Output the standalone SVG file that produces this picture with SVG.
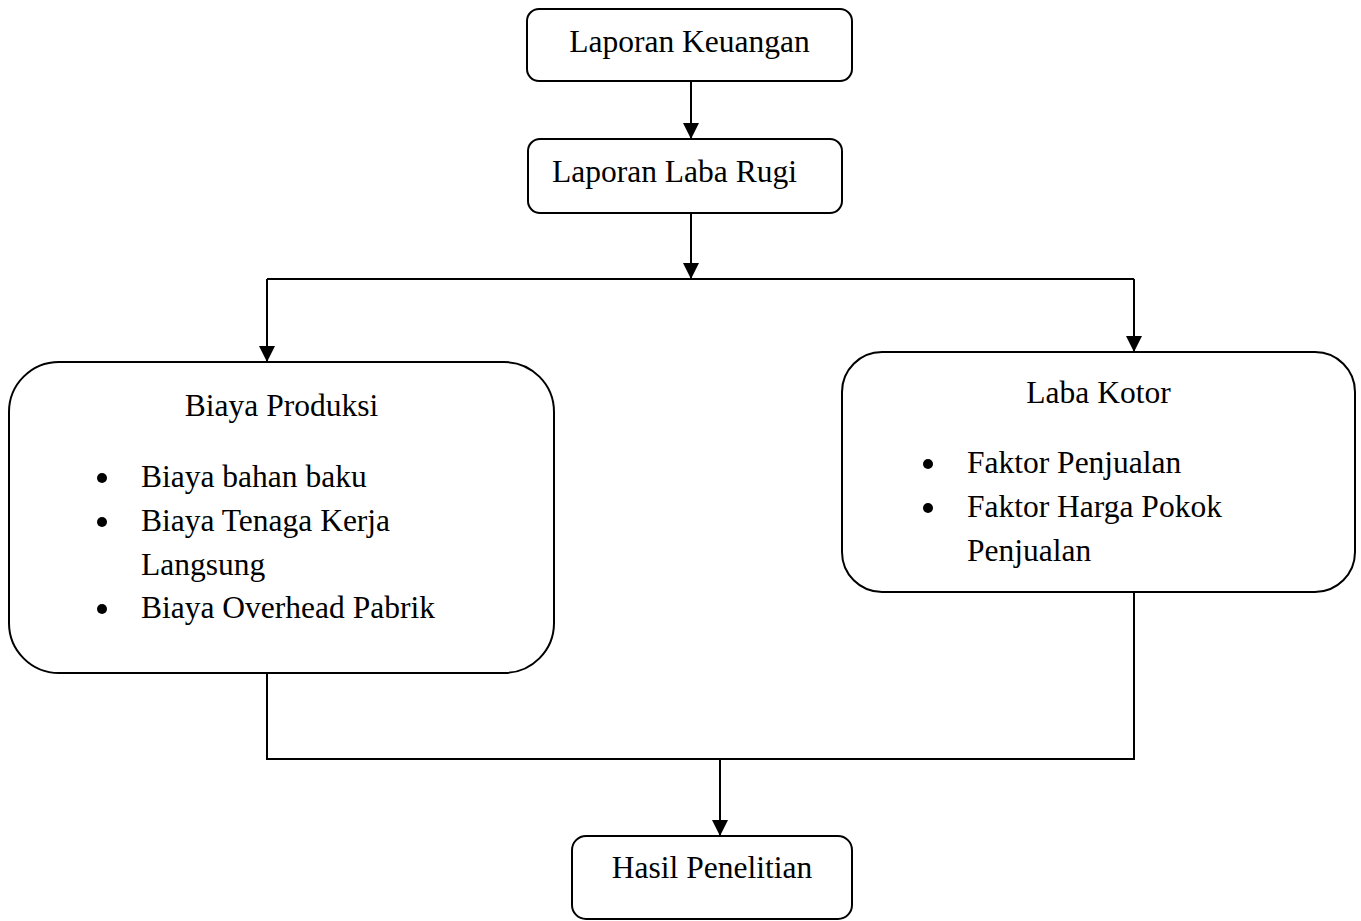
<svg xmlns="http://www.w3.org/2000/svg" width="1361" height="921" viewBox="0 0 1361 921">
<style>
.box{fill:#fff;stroke:#000;stroke-width:2}
.t{font-family:"Liberation Serif","Times New Roman",serif;font-size:31.5px;fill:#000}
.c{text-anchor:middle}
.ln{fill:none;stroke:#000;stroke-width:2}
.dot{fill:#000}
</style>
<defs>
<marker id="ah" markerUnits="userSpaceOnUse" markerWidth="16" markerHeight="16" refX="16" refY="8" orient="auto">
<path d="M0,0 L16,8 L0,16 z" fill="#000"/>
</marker>
</defs>
<rect width="1361" height="921" fill="#fff"/>
<g id="connectors">
<line class="ln" x1="691" y1="81" x2="691" y2="139" marker-end="url(#ah)"/>
<line class="ln" x1="691" y1="213" x2="691" y2="279" marker-end="url(#ah)"/>
<line class="ln" x1="267" y1="279" x2="1134" y2="279"/>
<line class="ln" x1="267" y1="279" x2="267" y2="362" marker-end="url(#ah)"/>
<line class="ln" x1="1134" y1="279" x2="1134" y2="352" marker-end="url(#ah)"/>
<polyline class="ln" points="267,673 267,759 1134,759 1134,592"/>
<line class="ln" x1="720" y1="759" x2="720" y2="836" marker-end="url(#ah)"/>
</g>
<g id="laporan-keuangan">
<rect class="box" x="527" y="9" width="325" height="72" rx="12"/>
<text class="t c" x="689.5" y="52">Laporan Keuangan</text>
</g>
<g id="laporan-laba-rugi">
<rect class="box" x="528" y="139" width="314" height="74" rx="12"/>
<text class="t" x="552" y="182">Laporan Laba Rugi</text>
</g>
<g id="biaya-produksi">
<rect class="box" x="9" y="362" width="545" height="311" rx="50"/>
<text class="t c" x="281.5" y="416">Biaya Produksi</text>
<circle class="dot" cx="102" cy="478" r="5"/>
<text class="t" x="141" y="487">Biaya bahan baku</text>
<circle class="dot" cx="102" cy="522" r="5"/>
<text class="t" x="141" y="531">Biaya Tenaga Kerja</text>
<text class="t" x="141" y="575">Langsung</text>
<circle class="dot" cx="102" cy="609" r="5"/>
<text class="t" x="141" y="618">Biaya Overhead Pabrik</text>
</g>
<g id="laba-kotor">
<rect class="box" x="842" y="352" width="513" height="240" rx="40"/>
<text class="t c" x="1098.5" y="403">Laba Kotor</text>
<circle class="dot" cx="928" cy="464" r="5"/>
<text class="t" x="967" y="473">Faktor Penjualan</text>
<circle class="dot" cx="928" cy="508" r="5"/>
<text class="t" x="967" y="517">Faktor Harga Pokok</text>
<text class="t" x="967" y="561">Penjualan</text>
</g>
<g id="hasil-penelitian">
<rect class="box" x="572" y="836" width="280" height="83" rx="14"/>
<text class="t c" x="712" y="878">Hasil Penelitian</text>
</g>
</svg>
